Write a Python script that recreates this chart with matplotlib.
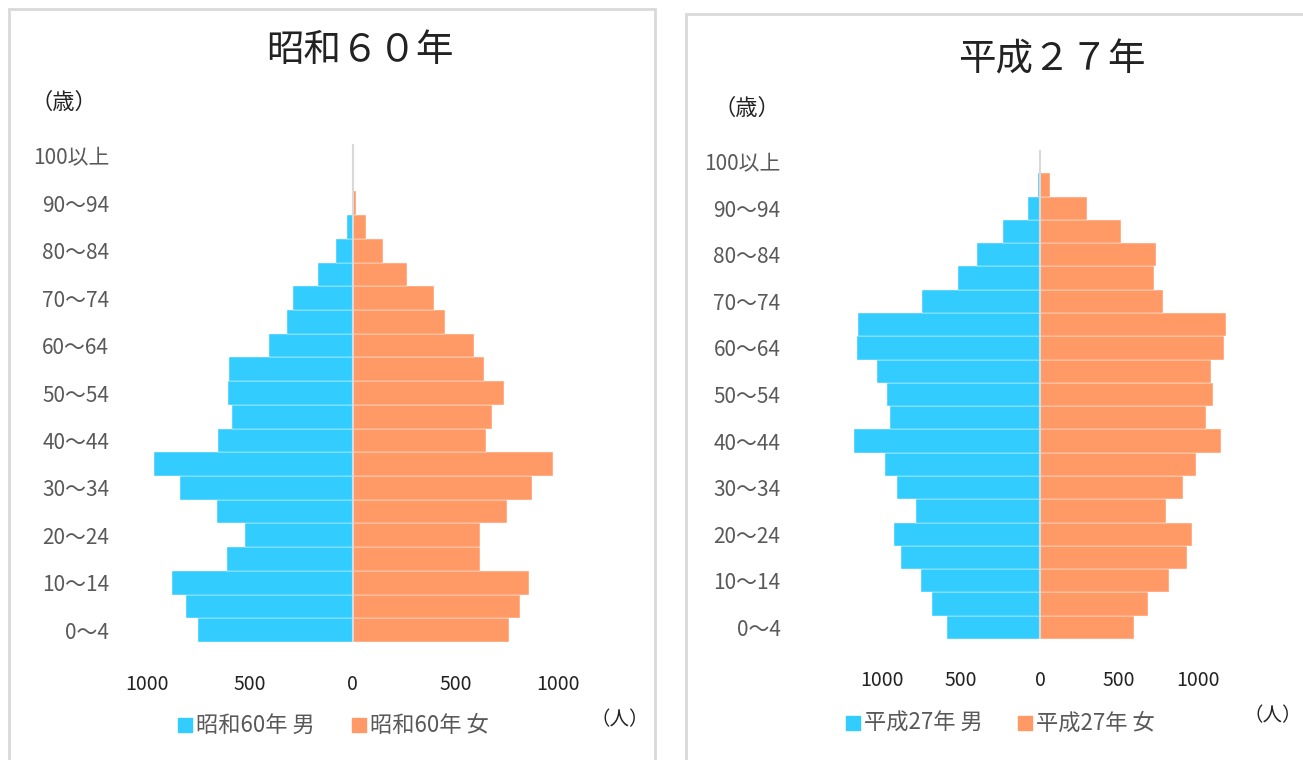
import matplotlib
matplotlib.use('Agg')
import matplotlib.pyplot as plt
from matplotlib.patches import Rectangle
from matplotlib.transforms import ScaledTranslation
import numpy as np

plt.rcParams['font.family'] = ['Noto Sans CJK JP', 'DejaVu Sans']

# age groups, bottom to top
ages = ['0～4', '5～9', '10～14', '15～19', '20～24', '25～29', '30～34', '35～39',
        '40～44', '45～49', '50～54', '55～59', '60～64', '65～69', '70～74',
        '75～79', '80～84', '85～89', '90～94', '95～99', '100以上']

# 昭和60年
s60_male = [751, 811, 879, 612, 523, 659, 841, 964, 654, 586, 604, 600, 408, 320, 288,
            167, 81, 26, 0, 0, 0]
s60_female = [759, 814, 858, 621, 621, 752, 874, 977, 647, 678, 738, 639, 592, 450, 396,
              265, 146, 68, 16, 0, 0]

# 平成27年
h27_male = [590, 685, 753, 882, 926, 787, 903, 983, 1178, 952, 967, 1030, 1157, 1153, 747,
            518, 402, 237, 76, 13, 0]
h27_female = [594, 683, 816, 931, 960, 797, 905, 990, 1144, 1049, 1096, 1085, 1163, 1176, 780,
              721, 734, 510, 298, 63, 0]

xticks = [-1000, -500, 0, 500, 1000]
xticklabels = ['1000', '500', '0', '500', '1000']

blue = '#33CCFF'
orange = '#FF9966'
grey = '#595959'

W, H = 1303, 760
fig = plt.figure(figsize=(W / 100, H / 100), dpi=100)


def fx(x):
    return x / W


def fy(y):
    return 1 - y / H


# panel frames
for x0, y0, x1, y1 in [(9, 9, 655, 775), (686, 14, 1320, 775)]:
    fig.patches.append(Rectangle((fx(x0), fy(y1)), fx(x1) - fx(x0), fy(y0) - fy(y1),
                                 transform=fig.transFigure, fill=False,
                                 edgecolor='#d9d9d9', lw=2))


def pyramid(box, lim, male, female, title, tpos, leg_labels, legx, legy, sai, hito,
            xpad, ypad):
    l, t, r, b = box
    ax = fig.add_axes([fx(l), fy(b), fx(r) - fx(l), fy(t) - fy(b)])
    y = np.arange(len(ages))
    ax.barh(y, -np.array(male), height=1.0, color=blue, edgecolor='white', lw=0.3)
    ax.barh(y, female, height=1.0, color=orange, edgecolor='white', lw=0.3)
    ax.axvline(0, color='#d9d9d9', lw=1.5, zorder=5)
    ax.set_xlim(-lim, lim)
    ax.set_ylim(-0.5, len(ages) - 0.5)
    ax.set_yticks(y[::2])
    ax.set_yticklabels(ages[::2], fontsize=15, color=grey)
    shift = ScaledTranslation(0, -3 / 72, fig.dpi_scale_trans)
    for lab in ax.get_yticklabels():
        lab.set_transform(lab.get_transform() + shift)
    ax.set_xticks(xticks)
    ax.set_xticklabels(xticklabels, fontsize=14, color='#222222')
    ax.tick_params(axis='x', length=0, pad=xpad)
    ax.tick_params(axis='y', length=0, pad=ypad)
    for s in ax.spines.values():
        s.set_visible(False)
    fig.text(fx(tpos[0]), fy(tpos[1]), title, fontsize=27, ha='center', va='center',
             color='#222222')
    fig.text(fx(sai[0]), fy(sai[1]), '（歳）', fontsize=16, ha='left', va='center', color='#222222')
    fig.text(fx(hito[0]), fy(hito[1]), '（人）', fontsize=14, ha='center', va='center',
             color='#222222')
    # legend
    for lx, lab, c in zip(legx, leg_labels, [blue, orange]):
        fig.patches.append(Rectangle((fx(lx), fy(legy + 7)), fx(14), 14 / H,
                                     transform=fig.transFigure, color=c))
        fig.text(fx(lx + 18), fy(legy), lab, fontsize=16, ha='left', va='center', color=grey)
    return ax


pyramid((116, 144, 589, 642), 1150, s60_male, s60_female, '昭和６０年', (360, 50),
        ['昭和60年 男', '昭和60年 女'], [178, 352], 725, (30, 102), (620, 720), 23, 5)
pyramid((811, 150, 1269, 639), 1450, h27_male, h27_female, '平成２７年', (1052, 60),
        ['平成27年 男', '平成27年 女'], [846, 1018], 723, (714, 108), (1273, 716), 22, 22)

fig.text(fx(1292), fy(5), '各年国勢調査', fontsize=20, ha='right', va='bottom', color='#222222')

fig.savefig('out.png', dpi=100)
